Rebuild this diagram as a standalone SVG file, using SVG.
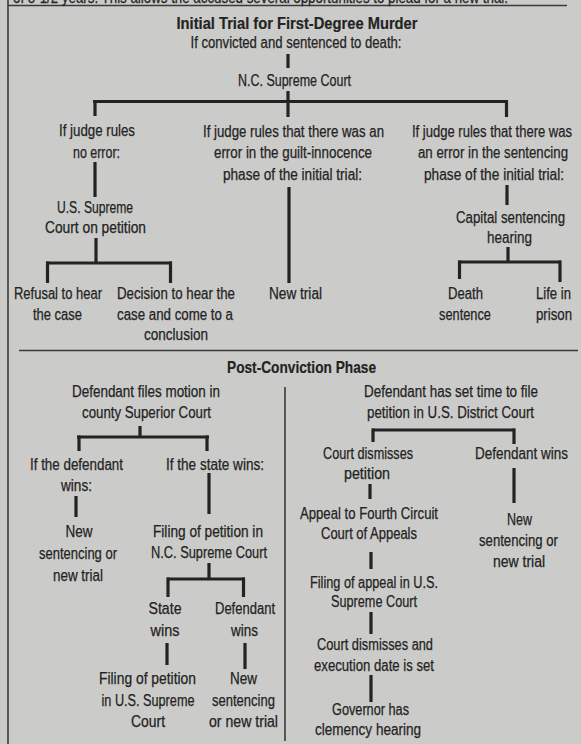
<svg xmlns="http://www.w3.org/2000/svg" width="581" height="744" viewBox="0 0 581 744">
<style>
text{font-family:"Liberation Sans",Arial,sans-serif;font-size:16px;fill:#232323;stroke:#232323;stroke-width:0.25;text-anchor:middle}
.t{font-weight:bold;font-size:17px;stroke-width:0.2}
.l{text-anchor:start}
.c line{stroke:#232323;stroke-width:3.2;stroke-linecap:butt}
.r line{stroke:#3a3a3a;stroke-width:1.6}
</style>
<rect width="581" height="744" fill="#cbcbc9"/>
<g class="r" id="rules">
<line x1="8" y1="0" x2="8" y2="744"/>
<line x1="8" y1="5.5" x2="567" y2="5.5"/>
<line x1="19" y1="350.5" x2="578" y2="350.5"/>
<line x1="285" y1="387" x2="285" y2="741"/>
</g>
<text class="l" x="13" y="3" textLength="495" lengthAdjust="spacingAndGlyphs">of 8-1/2 years. This allows the accused several opportunities to plead for a new trial.</text>
<g id="title1"><text class="t" x="297" y="29" textLength="241" lengthAdjust="spacingAndGlyphs">Initial Trial for First-Degree Murder</text></g>
<g id="n-convicted"><text x="296" y="48" textLength="211" lengthAdjust="spacingAndGlyphs">If convicted and sentenced to death:</text></g>
<g id="n-ncsc"><text x="294.5" y="86" textLength="113" lengthAdjust="spacingAndGlyphs">N.C. Supreme Court</text></g>
<g id="n-noerror"><text x="97" y="136" textLength="76" lengthAdjust="spacingAndGlyphs">If judge rules</text><text x="96.5" y="158" textLength="47" lengthAdjust="spacingAndGlyphs">no error:</text></g>
<g id="n-ussc"><text x="95" y="213" textLength="76" lengthAdjust="spacingAndGlyphs">U.S. Supreme</text><text x="95.5" y="233" textLength="101" lengthAdjust="spacingAndGlyphs">Court on petition</text></g>
<g id="n-refusal"><text x="58" y="299" textLength="88" lengthAdjust="spacingAndGlyphs">Refusal to hear</text><text x="57.5" y="320" textLength="49" lengthAdjust="spacingAndGlyphs">the case</text></g>
<g id="n-decision"><text x="176" y="299" textLength="118" lengthAdjust="spacingAndGlyphs">Decision to hear the</text><text x="175" y="320" textLength="116" lengthAdjust="spacingAndGlyphs">case and come to a</text><text x="176" y="340" textLength="64" lengthAdjust="spacingAndGlyphs">conclusion</text></g>
<g id="n-guilt"><text x="293.5" y="137" textLength="181" lengthAdjust="spacingAndGlyphs">If judge rules that there was an</text><text x="293" y="158" textLength="158" lengthAdjust="spacingAndGlyphs">error in the guilt-innocence</text><text x="292.5" y="180" textLength="139" lengthAdjust="spacingAndGlyphs">phase of the initial trial:</text></g>
<g id="n-newtrial"><text x="295.5" y="299" textLength="53" lengthAdjust="spacingAndGlyphs">New trial</text></g>
<g id="n-sentencing"><text x="492" y="137" textLength="160" lengthAdjust="spacingAndGlyphs">If judge rules that there was</text><text x="493" y="158" textLength="150" lengthAdjust="spacingAndGlyphs">an error in the sentencing</text><text x="494" y="180" textLength="140" lengthAdjust="spacingAndGlyphs">phase of the initial trial:</text></g>
<g id="n-capital"><text x="510.5" y="223" textLength="109" lengthAdjust="spacingAndGlyphs">Capital sentencing</text><text x="509.5" y="243" textLength="45" lengthAdjust="spacingAndGlyphs">hearing</text></g>
<g id="n-death"><text x="465.5" y="299" textLength="35" lengthAdjust="spacingAndGlyphs">Death</text><text x="465" y="320" textLength="52" lengthAdjust="spacingAndGlyphs">sentence</text></g>
<g id="n-life"><text x="553.5" y="299" textLength="35" lengthAdjust="spacingAndGlyphs">Life in</text><text x="554" y="320" textLength="36" lengthAdjust="spacingAndGlyphs">prison</text></g>
<g id="title2"><text class="t" x="301.5" y="373" textLength="149" lengthAdjust="spacingAndGlyphs">Post-Conviction Phase</text></g>
<g id="n-motion"><text x="146" y="397" textLength="148" lengthAdjust="spacingAndGlyphs">Defendant files motion in</text><text x="146.5" y="418" textLength="129" lengthAdjust="spacingAndGlyphs">county Superior Court</text></g>
<g id="n-defwins1"><text x="76.5" y="470" textLength="93" lengthAdjust="spacingAndGlyphs">If the defendant</text><text x="76.5" y="491" textLength="31" lengthAdjust="spacingAndGlyphs">wins:</text></g>
<g id="n-statewins1"><text x="215" y="470" textLength="98" lengthAdjust="spacingAndGlyphs">If the state wins:</text></g>
<g id="n-newsent1"><text x="79" y="537" textLength="27" lengthAdjust="spacingAndGlyphs">New</text><text x="78" y="559" textLength="78" lengthAdjust="spacingAndGlyphs">sentencing or</text><text x="78" y="581" textLength="50" lengthAdjust="spacingAndGlyphs">new trial</text></g>
<g id="n-filingnc"><text x="208" y="537" textLength="110" lengthAdjust="spacingAndGlyphs">Filing of petition in</text><text x="209" y="558" textLength="116" lengthAdjust="spacingAndGlyphs">N.C. Supreme Court</text></g>
<g id="n-statewins2"><text x="165" y="614" textLength="33" lengthAdjust="spacingAndGlyphs">State</text><text x="165" y="636" textLength="29" lengthAdjust="spacingAndGlyphs">wins</text></g>
<g id="n-defwins2"><text x="245" y="614" textLength="60" lengthAdjust="spacingAndGlyphs">Defendant</text><text x="244.5" y="636" textLength="27" lengthAdjust="spacingAndGlyphs">wins</text></g>
<g id="n-filingus"><text x="147.5" y="684" textLength="97" lengthAdjust="spacingAndGlyphs">Filing of petition</text><text x="148" y="706" textLength="93" lengthAdjust="spacingAndGlyphs">in U.S. Supreme</text><text x="148" y="727" textLength="34" lengthAdjust="spacingAndGlyphs">Court</text></g>
<g id="n-newsent2"><text x="243.5" y="684" textLength="27" lengthAdjust="spacingAndGlyphs">New</text><text x="243.5" y="706" textLength="63" lengthAdjust="spacingAndGlyphs">sentencing</text><text x="243.5" y="727" textLength="69" lengthAdjust="spacingAndGlyphs">or new trial</text></g>
<g id="n-settime"><text x="451" y="397" textLength="174" lengthAdjust="spacingAndGlyphs">Defendant has set time to file</text><text x="450.5" y="418" textLength="167" lengthAdjust="spacingAndGlyphs">petition in U.S. District Court</text></g>
<g id="n-dismiss"><text x="368" y="459" textLength="90" lengthAdjust="spacingAndGlyphs">Court dismisses</text><text x="367" y="479" textLength="46" lengthAdjust="spacingAndGlyphs">petition</text></g>
<g id="n-defwins3"><text x="521.5" y="459" textLength="93" lengthAdjust="spacingAndGlyphs">Defendant wins</text></g>
<g id="n-appeal"><text x="369" y="519" textLength="138" lengthAdjust="spacingAndGlyphs">Appeal to Fourth Circuit</text><text x="369" y="539" textLength="96" lengthAdjust="spacingAndGlyphs">Court of Appeals</text></g>
<g id="n-newsent3"><text x="519.5" y="525" textLength="25" lengthAdjust="spacingAndGlyphs">New</text><text x="518.5" y="546" textLength="79" lengthAdjust="spacingAndGlyphs">sentencing or</text><text x="519" y="567" textLength="52" lengthAdjust="spacingAndGlyphs">new trial</text></g>
<g id="n-filingappeal"><text x="374" y="588" textLength="128" lengthAdjust="spacingAndGlyphs">Filing of appeal in U.S.</text><text x="374" y="607" textLength="86" lengthAdjust="spacingAndGlyphs">Supreme Court</text></g>
<g id="n-execution"><text x="375" y="650" textLength="116" lengthAdjust="spacingAndGlyphs">Court dismisses and</text><text x="374" y="671" textLength="120" lengthAdjust="spacingAndGlyphs">execution date is set</text></g>
<g id="n-governor"><text x="370.5" y="715" textLength="77" lengthAdjust="spacingAndGlyphs">Governor has</text><text x="368" y="735" textLength="106" lengthAdjust="spacingAndGlyphs">clemency hearing</text></g>
<g class="c" id="connectors">
<line x1="288" y1="54" x2="288" y2="68"/>
<line x1="288" y1="91" x2="288" y2="117"/>
<line x1="93" y1="101.5" x2="508" y2="101.5"/>
<line x1="95" y1="100" x2="95" y2="116"/>
<line x1="506.5" y1="100" x2="506.5" y2="117"/>
<line x1="95" y1="162" x2="95" y2="197"/>
<line x1="96" y1="238" x2="96" y2="263"/>
<line x1="46" y1="263" x2="172" y2="263"/>
<line x1="47.5" y1="261.5" x2="47.5" y2="283"/>
<line x1="170.5" y1="261.5" x2="170.5" y2="283"/>
<line x1="289" y1="187" x2="289" y2="283"/>
<line x1="507" y1="185" x2="507" y2="205"/>
<line x1="508" y1="247" x2="508" y2="262"/>
<line x1="458" y1="262" x2="561" y2="262"/>
<line x1="459.5" y1="260.5" x2="459.5" y2="279"/>
<line x1="560" y1="260.5" x2="560" y2="282"/>
<line x1="140" y1="426" x2="140" y2="437"/>
<line x1="77" y1="437" x2="209" y2="437"/>
<line x1="79" y1="435.5" x2="79" y2="451"/>
<line x1="207" y1="435.5" x2="207" y2="451"/>
<line x1="76" y1="496" x2="76" y2="517"/>
<line x1="209" y1="473" x2="209" y2="514"/>
<line x1="209" y1="563" x2="209" y2="579"/>
<line x1="167" y1="579" x2="245" y2="579"/>
<line x1="168" y1="577.5" x2="168" y2="597"/>
<line x1="243.5" y1="577.5" x2="243.5" y2="597"/>
<line x1="167" y1="643" x2="167" y2="665"/>
<line x1="245" y1="643" x2="245" y2="669"/>
<line x1="372" y1="430" x2="515" y2="430"/>
<line x1="373" y1="428.5" x2="373" y2="442"/>
<line x1="514" y1="428.5" x2="514" y2="444"/>
<line x1="370" y1="484" x2="370" y2="499"/>
<line x1="514" y1="468" x2="514" y2="503"/>
<line x1="371" y1="552" x2="371" y2="569"/>
<line x1="371" y1="612" x2="371" y2="634"/>
<line x1="371" y1="675" x2="371" y2="702"/>
</g>
</svg>
